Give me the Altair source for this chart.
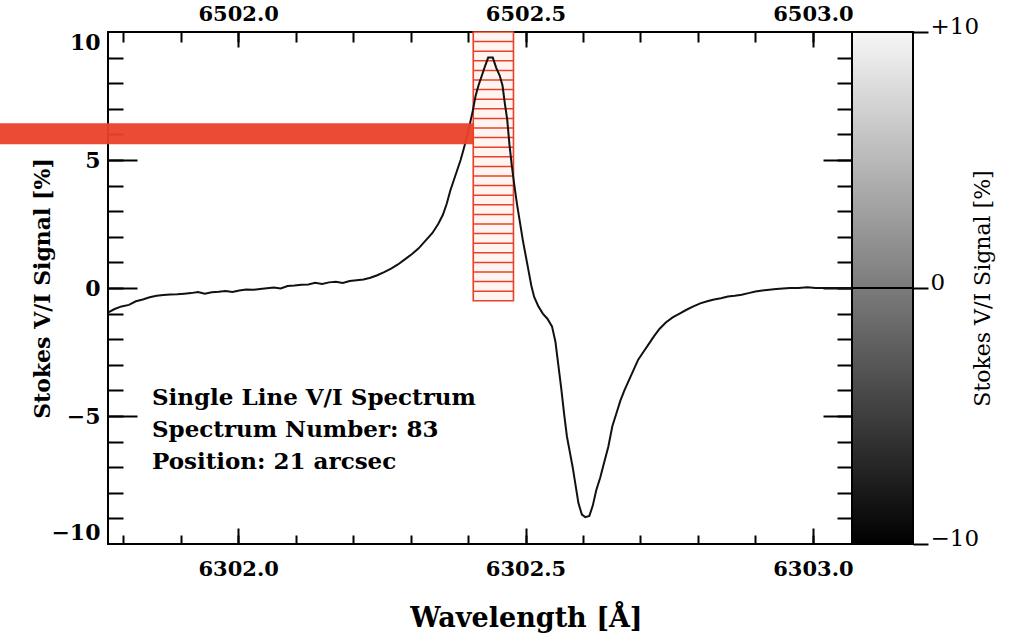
import altair as alt
import pandas as pd

# ---------------- data ----------------
WAVELENGTH = [
    6301.774, 6301.785, 6301.797, 6301.810, 6301.822, 6301.834, 6301.846, 6301.858,
    6301.870, 6301.882, 6301.894, 6301.906, 6301.918, 6301.930, 6301.942, 6301.954,
    6301.966, 6301.978, 6301.990, 6302.002, 6302.014, 6302.026, 6302.038, 6302.050,
    6302.062, 6302.074, 6302.086, 6302.098, 6302.110, 6302.122, 6302.134, 6302.146,
    6302.158, 6302.170, 6302.182, 6302.194, 6302.206, 6302.218, 6302.230, 6302.242,
    6302.254, 6302.266, 6302.278, 6302.290, 6302.302, 6302.314, 6302.326, 6302.338,
    6302.348, 6302.356, 6302.363, 6302.369, 6302.375, 6302.381, 6302.387, 6302.392,
    6302.398, 6302.403, 6302.408, 6302.413, 6302.418, 6302.424, 6302.430, 6302.435,
    6302.443, 6302.449, 6302.455, 6302.460, 6302.464, 6302.468, 6302.472, 6302.476,
    6302.480, 6302.485, 6302.490, 6302.495, 6302.500, 6302.505, 6302.510, 6302.515,
    6302.522, 6302.530, 6302.538, 6302.546, 6302.552, 6302.557, 6302.562, 6302.567,
    6302.572, 6302.577, 6302.582, 6302.587, 6302.592, 6302.598, 6302.604, 6302.611,
    6302.617, 6302.623, 6302.630, 6302.637, 6302.644, 6302.651, 6302.658, 6302.665,
    6302.672, 6302.680, 6302.688, 6302.696, 6302.705, 6302.714, 6302.723, 6302.733,
    6302.744, 6302.756, 6302.768, 6302.780, 6302.792, 6302.804, 6302.816, 6302.828,
    6302.840, 6302.852, 6302.864, 6302.876, 6302.888, 6302.900, 6302.912, 6302.924,
    6302.936, 6302.948, 6302.960, 6302.975, 6302.990, 6303.005, 6303.020, 6303.040,
    6303.068,
]
STOKES_V = [
    -0.95, -0.82, -0.72, -0.66, -0.52, -0.45, -0.36, -0.30,
    -0.27, -0.25, -0.24, -0.22, -0.20, -0.16, -0.22, -0.17,
    -0.15, -0.12, -0.16, -0.10, -0.06, -0.07, -0.04, -0.01,
    0.02, -0.02, 0.08, 0.10, 0.13, 0.14, 0.20, 0.16,
    0.22, 0.24, 0.20, 0.27, 0.30, 0.33, 0.40, 0.50,
    0.62, 0.76, 0.92, 1.12, 1.32, 1.55, 1.85, 2.15,
    2.50, 2.85, 3.30, 3.80, 4.20, 4.60, 5.00, 5.40,
    5.90, 6.40, 6.90, 7.50, 7.90, 8.30, 8.70, 9.00,
    9.00, 8.60, 8.30, 7.90, 7.20, 6.60, 5.60, 4.80,
    4.10, 3.30, 2.60, 1.90, 1.30, 0.70, 0.10, -0.35,
    -0.70, -1.00, -1.20, -1.50, -2.10, -3.00, -3.90, -4.90,
    -5.80, -6.40, -7.00, -7.70, -8.40, -8.85, -8.95, -8.90,
    -8.50, -7.90, -7.40, -6.80, -6.20, -5.40, -4.90, -4.40,
    -4.00, -3.60, -3.20, -2.80, -2.50, -2.20, -1.90, -1.60,
    -1.35, -1.15, -1.00, -0.85, -0.72, -0.60, -0.52, -0.45,
    -0.40, -0.33, -0.30, -0.26, -0.20, -0.14, -0.10, -0.07,
    -0.04, -0.02, 0.00, 0.00, 0.03, 0.00, 0.00, 0.00,
    0.00,
]
X_MAJOR = [6302.0, 6302.5, 6303.0]
X_MINOR = [6301.8, 6301.9, 6302.0, 6302.1, 6302.2, 6302.3, 6302.4, 6302.5,
           6302.6, 6302.7, 6302.8, 6302.9, 6303.0]
Y_MAJOR = [-10, -5, 0, 5, 10]
Y_INNER_MAJOR = [-5, 0, 5]
Y_MINOR = [-9, -8, -7, -6, -5, -4, -3, -2, -1, 0, 1, 2, 3, 4, 5, 6, 7, 8, 9]
CBAR_TICKS = [-10, 0, 10]
ANNOT_LINES = ["Single Line V/I Spectrum", "Spectrum Number: 83", "Position: 21 arcsec"]
ANNOT_POS = [6301.850, -4.3]
BAND_X = [6302.409, 6302.479]
BAND_Y = [-0.5, 10.0]
HATCH_COUNT = 28
MARK_LEVEL = 6.03

# ---------------- layout ----------------
PAD_L, PAD_T = 108, 32
PLOT_W, CB_W, H = 744, 61, 512
X_LO, X_HI_DATA = 6301.7735, 6303.068
X_HI = X_HI_DATA + CB_W * (X_HI_DATA - X_LO) / PLOT_W
X_CANVAS_LEFT = X_LO - PAD_L * (X_HI - X_LO) / (PLOT_W + CB_W)
FONT = "DejaVu Serif"
RED = "#ea4029"

xscale = alt.Scale(domain=[X_LO, X_HI], nice=False, zero=False)
yscale = alt.Scale(domain=[-10, 10], nice=False, zero=False)

spec = pd.DataFrame({"wl": WAVELENGTH, "v": STOKES_V})
one = pd.DataFrame({"k": [0]})

tick_common = dict(domain=False, grid=False, labels=False, tickColor="black",
                   tickWidth=2, title=None)
lab_common = dict(domain=False, grid=False, ticks=False, labelFont=FONT,
                  labelFontWeight="bold", labelColor="black")


def carrier(xaxis, yaxis):
    return alt.Chart(spec).mark_point(opacity=0, size=1).encode(
        x=alt.X("wl:Q", scale=xscale, axis=xaxis),
        y=alt.Y("v:Q", scale=yscale, axis=yaxis),
    )


ax_layers = [
    carrier(
        alt.Axis(orient="bottom", values=X_MAJOR, format=".1f", labelPadding=14,
                 labelFontSize=21,
                 title="Wavelength [Å]", titleFont=FONT, titleFontSize=27,
                 titleFontWeight="bold", titleColor="black", titleX=418, titleY=74,
                 titleAlign="center", titleBaseline="middle", **lab_common),
        alt.Axis(orient="left", values=Y_MAJOR, labelPadding=8, labelFlush=True,
                 labelFontSize=22,
                 title="Stokes V/I Signal [%]", titleFont=FONT, titleFontSize=22,
                 titleFontWeight="bold", titleColor="black", titleAngle=270,
                 titleX=-66, titleY=H / 2, titleAlign="center", titleBaseline="middle",
                 **lab_common),
    ),
    carrier(
        alt.Axis(orient="top", values=X_MAJOR, labelPadding=8, labelFontSize=21,
                 labelExpr="format(datum.value + 200, '.1f')", title=None, **lab_common),
        alt.Axis(orient="right", offset=-(PLOT_W + CB_W), values=Y_MINOR, tickSize=15,
                 **tick_common),
    ),
    carrier(
        alt.Axis(orient="top", offset=-H, values=X_MINOR, tickSize=9, **tick_common),
        alt.Axis(orient="right", offset=-(PLOT_W + CB_W), values=Y_INNER_MAJOR,
                 tickSize=29, **tick_common),
    ),
    carrier(
        alt.Axis(orient="top", offset=-H, values=X_MAJOR, tickSize=16, **tick_common),
        alt.Axis(orient="left", offset=-PLOT_W, values=Y_MINOR, tickSize=15,
                 **tick_common),
    ),
    carrier(
        alt.Axis(orient="bottom", offset=-H, values=X_MINOR, tickSize=10, **tick_common),
        alt.Axis(orient="left", offset=-PLOT_W, values=Y_INNER_MAJOR, tickSize=29,
                 **tick_common),
    ),
    carrier(
        alt.Axis(orient="bottom", offset=-H, values=X_MAJOR, tickSize=15, **tick_common),
        alt.Axis(orient="right", values=CBAR_TICKS, tickSize=15, tickWidth=2,
                 tickColor="black", domain=False, grid=False,
                 labelExpr="datum.value > 0 ? '+' + format(datum.value, 'd') : format(datum.value, 'd')",
                 labelFont=FONT, labelFontSize=23, labelColor="black", labelPadding=2,
                 labelOffset=-6, title="Stokes V/I Signal [%]", titleFont=FONT,
                 titleFontSize=22, titleFontWeight="normal", titleColor="black",
                 titleAngle=270, titleX=69, titleY=H / 2, titleAlign="center",
                 titleBaseline="middle"),
    ),
]

# colour bar
cbar = alt.Chart(one).mark_rect(
    fill=alt.Gradient(gradient="linear",
                      stops=[alt.GradientStop(color="#f6f6f6", offset=0),
                             alt.GradientStop(color="#000000", offset=1)],
                      x1=0, x2=0, y1=0, y2=1),
    stroke="black", strokeWidth=2,
).encode(
    x=alt.value(PLOT_W), x2=alt.value(PLOT_W + CB_W),
    y=alt.Y(datum=CBAR_TICKS[-1], type="quantitative", scale=yscale, axis=None),
    y2=alt.Y2(datum=CBAR_TICKS[0]),
)
cbar_zero = alt.Chart(one).mark_rule(color="black", strokeWidth=2).encode(
    x=alt.value(PLOT_W), x2=alt.value(PLOT_W + CB_W),
    y=alt.Y(datum=0, type="quantitative", scale=yscale, axis=None),
)

band_df = pd.DataFrame({"x0": [BAND_X[0]], "x1": [BAND_X[1]],
                        "y0": [BAND_Y[0]], "y1": [BAND_Y[1]]})
band = alt.Chart(band_df).mark_rect(fill="#fff4f0", stroke=RED, strokeWidth=1.6).encode(
    x=alt.X("x0:Q", scale=xscale, axis=None), x2="x1:Q",
    y=alt.Y("y0:Q", scale=yscale, axis=None), y2="y1:Q",
)
hatch_step = (BAND_Y[1] - BAND_Y[0]) / HATCH_COUNT
hatch_df = pd.DataFrame({"hy": [BAND_Y[0] + i * hatch_step for i in range(1, HATCH_COUNT)]})
hatch = alt.Chart(hatch_df).mark_rule(color=RED, strokeWidth=1.5).encode(
    x=alt.X(datum=BAND_X[0], type="quantitative", scale=xscale, axis=None),
    x2=alt.X2(datum=BAND_X[1]),
    y=alt.Y("hy:Q", scale=yscale, axis=None),
)

line = alt.Chart(spec).mark_line(color="#111111", strokeWidth=2).encode(
    x=alt.X("wl:Q", scale=xscale, axis=None),
    y=alt.Y("v:Q", scale=yscale, axis=None),
)

bar = alt.Chart(one).mark_rule(color=RED, strokeWidth=21, opacity=0.95).encode(
    x=alt.X(datum=X_CANVAS_LEFT, type="quantitative", scale=xscale, axis=None),
    x2=alt.X2(datum=BAND_X[0]),
    y=alt.Y(datum=MARK_LEVEL, type="quantitative", scale=yscale, axis=None),
)

annot = alt.Chart(pd.DataFrame({"t": ["\n".join(ANNOT_LINES)]})).mark_text(
    align="left", baseline="middle", font=FONT, fontSize=23, fontWeight="bold",
    color="black", lineBreak="\n", lineHeight=32,
).encode(
    x=alt.X(datum=ANNOT_POS[0], type="quantitative", scale=xscale, axis=None),
    y=alt.Y(datum=ANNOT_POS[1], type="quantitative", scale=yscale, axis=None),
    text="t:N",
)

chart = alt.layer(
    *ax_layers, cbar, cbar_zero, band, hatch, line, bar, annot
).resolve_axis(x="independent", y="independent").properties(
    width=PLOT_W + CB_W, height=H,
    autosize=alt.AutoSizeParams(type="none"),
    padding={"left": PAD_L, "top": PAD_T,
             "right": 1009 - PAD_L - PLOT_W - CB_W, "bottom": 635 - PAD_T - H},
    background="white",
).configure_view(stroke="black", strokeWidth=2)

chart.save("out.html", embed_options={"renderer": "svg", "actions": False})
